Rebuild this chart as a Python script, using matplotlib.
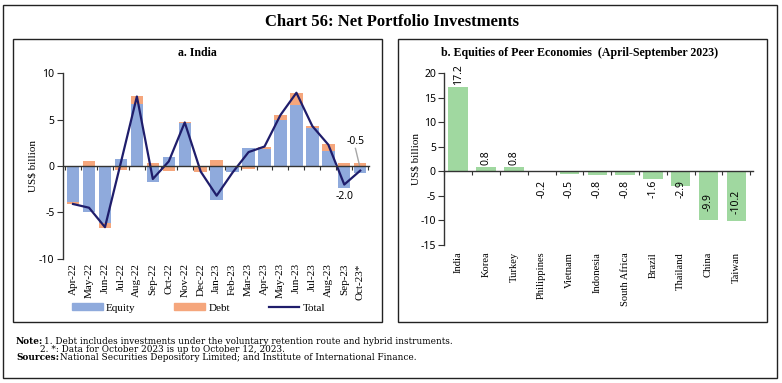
import matplotlib.pyplot as plt
import matplotlib.patches as mpatches
import matplotlib.lines as mlines
import matplotlib.transforms as mtransforms
import numpy as np

# panel a data (US$ billion)
months = ['Apr-22', 'May-22', 'Jun-22', 'Jul-22', 'Aug-22', 'Sep-22', 'Oct-22', 'Nov-22',
          'Dec-22', 'Jan-23', 'Feb-23', 'Mar-23', 'Apr-23', 'May-23', 'Jun-23', 'Jul-23',
          'Aug-23', 'Sep-23', 'Oct-23*']
equity = [-3.9, -5.0, -6.2, 0.8, 6.7, -1.7, 1.0, 4.6, -0.1, -3.7, -0.6, 1.9, 1.8, 5.0,
          6.6, 4.1, 1.6, -2.4, -0.8]
debt = [-0.2, 0.5, -0.5, -0.4, 0.9, 0.3, -0.5, 0.1, -0.6, 0.6, -0.1, -0.3, 0.3, 0.5,
        1.3, 0.2, 0.8, 0.3, 0.3]
total = [-4.1, -4.5, -6.6, 0.4, 7.5, -1.4, 0.5, 4.7, -0.6, -3.2, -0.7, 1.5, 2.1, 5.5,
         7.9, 4.3, 2.3, -2.0, -0.5]

# panel b data
countries = ['India', 'Korea', 'Turkey', 'Philippines', 'Vietnam', 'Indonesia',
             'South Africa', 'Brazil', 'Thailand', 'China', 'Taiwan']
peer_equity = [17.2, 0.8, 0.8, -0.2, -0.5, -0.8, -0.8, -1.6, -2.9, -9.9, -10.2]

SERIF = 'Liberation Serif'
NUM = 'Noto Sans'
C_EQ = '#8faadc'
C_DEBT = '#f5a67c'
C_TOT = '#1f1d6b'
C_GREEN = '#a0d8a0'
FS = 8       # category labels
FN = 7.5     # numbers

fig = plt.figure(figsize=(7.82, 3.83), dpi=100)
W, H = 782, 383


def box(x0, y0, x1, y1):
    fig.patches.append(mpatches.Rectangle((x0 / W, 1 - y1 / H), (x1 - x0) / W, (y1 - y0) / H,
                                          transform=fig.transFigure, fill=False,
                                          edgecolor='#222222', linewidth=1.0))


box(3, 5, 777, 378)
box(13, 39, 382, 322)
box(398, 39, 767, 322)

fig.text(392 / W, 1 - 22 / H, 'Chart 56: Net Portfolio Investments', ha='center', va='center',
         family=SERIF, fontweight='bold', fontsize=12)
fig.text(197.5 / W, 1 - 53 / H, 'a. India', ha='center', va='center',
         family=SERIF, fontweight='bold', fontsize=8.6)
fig.text(580 / W, 1 - 53 / H, 'b. Equities of Peer Economies  (April-September 2023)',
         ha='center', va='center', family=SERIF, fontweight='bold', fontsize=8.6)

# ---- panel a ----
ax = fig.add_axes([62.7 / W, 1 - 258.7 / H, 306.3 / W, 185.4 / H])
x = np.arange(len(months))
eq = np.array(equity)
db = np.array(debt)
bottom = np.where(np.sign(eq) == np.sign(db), eq, 0)
ax.bar(x, eq, width=0.78, color=C_EQ, zorder=2)
ax.bar(x, db, width=0.78, bottom=bottom, color=C_DEBT, zorder=2)
ax.plot(x, total, color=C_TOT, linewidth=1.6, zorder=3)
ax.set_xlim(-0.65, len(months) - 0.45)
ax.set_ylim(-10, 10)
ax.set_yticks([-10, -5, 0, 5, 10])
ax.set_yticklabels(['-10', '-5', '0', '5', '10'], family=NUM, fontsize=FN)
ax.spines['top'].set_visible(False)
ax.spines['right'].set_visible(False)
ax.spines['bottom'].set_position(('data', 0))
ax.spines['bottom'].set_zorder(4)
for s in ['left', 'bottom']:
    ax.spines[s].set_linewidth(1.0)
    ax.spines[s].set_color('#333333')
ax.set_xticks(np.arange(len(months) + 1) - 0.5)
ax.set_xticklabels([])
ax.tick_params(axis='x', length=3, width=0.8, color='#333333')
ax.tick_params(axis='y', length=4, width=0.8, color='#333333', pad=2)
trans = mtransforms.blended_transform_factory(ax.transData, ax.transAxes)
for i, m in enumerate(months):
    ax.text(i, -0.025, m, transform=trans, rotation=90, ha='center', va='top',
            family=SERIF, fontsize=FS)
ax.set_ylabel('US$ billion', family=SERIF, fontsize=FS, labelpad=1)
ax.text(len(months) - 2, total[-2] - 0.7, '-2.0', ha='center', va='top', family=NUM, fontsize=FN)
ax.text(len(months) - 1.3, 2.0, '-0.5', ha='center', va='bottom', family=NUM, fontsize=FN)
ax.plot([len(months) - 1.3, len(months) - 1.05], [1.9, 0.1], color='#a6a6a6', linewidth=1.0, zorder=4)

handles = [mpatches.Patch(color=C_EQ, label='Equity'),
           mpatches.Patch(color=C_DEBT, label='Debt'),
           mlines.Line2D([], [], color=C_TOT, linewidth=1.6, label='Total')]
fig.legend(handles=handles, loc='center left', bbox_to_anchor=(72 / W, 1 - 308 / H), ncol=3,
           frameon=False, prop={'family': SERIF, 'size': FS}, handlelength=2.75,
           handleheight=0.5, handletextpad=0.3, columnspacing=3.5, borderaxespad=0,
           borderpad=0)

# ---- panel b ----
bx = fig.add_axes([444.3 / W, 1 - 245 / H, 308.7 / W, 171.7 / H])
xc = np.arange(len(countries))
bx.bar(xc, peer_equity, width=0.7, color=C_GREEN, zorder=2)
bx.set_xlim(-0.5, len(countries) - 0.4)
bx.set_ylim(-15, 20)
bx.set_yticks([-15, -10, -5, 0, 5, 10, 15, 20])
bx.set_yticklabels(['-15', '-10', '-5', '0', '5', '10', '15', '20'], family=NUM, fontsize=FN)
bx.spines['top'].set_visible(False)
bx.spines['right'].set_visible(False)
bx.spines['bottom'].set_position(('data', 0))
bx.spines['bottom'].set_zorder(4)
for s in ['left', 'bottom']:
    bx.spines[s].set_linewidth(1.0)
    bx.spines[s].set_color('#333333')
bx.set_xticks(np.arange(len(countries) + 1) - 0.5)
bx.set_xticklabels([])
bx.tick_params(axis='x', length=3, width=0.8, color='#333333')
bx.tick_params(axis='y', length=4, width=0.8, color='#333333', pad=2)
trans_b = mtransforms.blended_transform_factory(bx.transData, bx.transAxes)
for i, c in enumerate(countries):
    bx.text(i, -0.04, c, transform=trans_b, rotation=90, ha='center', va='top',
            family=SERIF, fontsize=7.6)
for i, v in enumerate(peer_equity):
    if v > 0:
        bx.text(i, v + 0.5, f'{v:.1f}', rotation=90, ha='center', va='bottom', family=NUM, fontsize=FN)
    else:
        ypos = -3.6 if v > -5 else -6.3
        bx.text(i, ypos, f'{v:.1f}', rotation=90, ha='center', va='center', family=NUM,
                fontsize=FN, zorder=3)
bx.set_ylabel('US$ billion', family=SERIF, fontsize=FS, labelpad=0)

# notes
NOTEF = 'DejaVu Serif'
FNOTE = 6.4
fig.text(16 / W, 1 - 341 / H, 'Note:', family=NOTEF, fontweight='bold', fontsize=FNOTE, va='center')
fig.text(44 / W, 1 - 341 / H, '1. Debt includes investments under the voluntary retention route and hybrid instruments.',
         family=NOTEF, fontsize=FNOTE, va='center')
fig.text(40 / W, 1 - 349.5 / H, '2. *: Data for October 2023 is up to October 12, 2023.',
         family=NOTEF, fontsize=FNOTE, va='center')
fig.text(16 / W, 1 - 358 / H, 'Sources:', family=NOTEF, fontweight='bold', fontsize=FNOTE, va='center')
fig.text(60 / W, 1 - 358 / H, 'National Securities Depository Limited; and Institute of International Finance.',
         family=NOTEF, fontsize=FNOTE, va='center')

fig.savefig('out.png', dpi=100)
